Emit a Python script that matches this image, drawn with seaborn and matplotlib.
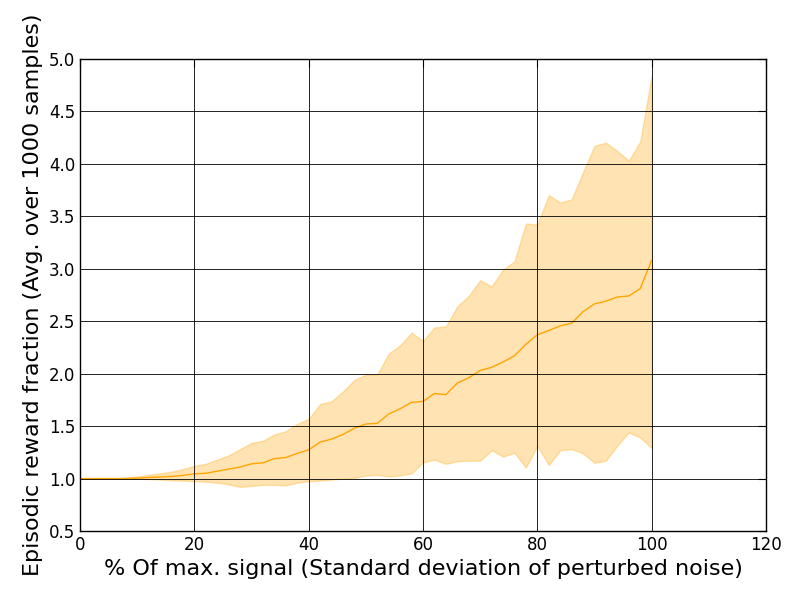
import numpy as np
import pandas as pd
import matplotlib
matplotlib.use("Agg")
import matplotlib.pyplot as plt
import seaborn as sns

noise_pct = list(range(0, 101, 2))

mean_frac = [1.0, 1.0, 1.0, 1.0, 1.0, 1.003, 1.01, 1.015, 1.02, 1.03,
             1.045, 1.05, 1.07, 1.09, 1.11, 1.14, 1.15, 1.19, 1.20, 1.24,
             1.274, 1.347, 1.376, 1.42, 1.48, 1.52, 1.525, 1.615, 1.665, 1.726,
             1.735, 1.81, 1.80, 1.91, 1.96, 2.03, 2.06, 2.11, 2.17, 2.28,
             2.37, 2.41, 2.455, 2.48, 2.59, 2.665, 2.69, 2.73, 2.74, 2.81,
             3.08]

upper_frac = [1.0, 1.0, 1.0, 1.0, 1.01, 1.02, 1.035, 1.05, 1.065, 1.09,
              1.12, 1.14, 1.18, 1.22, 1.28, 1.34, 1.36, 1.42, 1.45, 1.52,
              1.567, 1.71, 1.735, 1.83, 1.94, 1.99, 1.99, 2.19, 2.27, 2.39,
              2.31, 2.44, 2.45, 2.64, 2.74, 2.89, 2.83, 2.99, 3.07, 3.43,
              3.42, 3.70, 3.63, 3.66, 3.92, 4.17, 4.20, 4.12, 4.03, 4.21,
              4.84]

lower_frac = [1.0, 1.0, 1.0, 1.0, 1.0, 1.0, 0.995, 0.99, 0.985, 0.98,
              0.975, 0.97, 0.96, 0.945, 0.92, 0.93, 0.94, 0.94, 0.935, 0.96,
              0.975, 0.98, 0.99, 1.0, 1.005, 1.03, 1.035, 1.02, 1.03, 1.05,
              1.155, 1.18, 1.14, 1.165, 1.17, 1.17, 1.27, 1.21, 1.245, 1.105,
              1.31, 1.13, 1.27, 1.28, 1.24, 1.15, 1.17, 1.315, 1.44, 1.39,
              1.29]

df = pd.DataFrame({'noise': noise_pct, 'mean': mean_frac,
                   'upper': upper_frac, 'lower': lower_frac})

sns.set_style("white")
plt.rcParams['font.family'] = ['DejaVu Sans']
plt.rcParams['text.color'] = 'black'
plt.rcParams['axes.labelcolor'] = 'black'
plt.rcParams['xtick.color'] = 'black'
plt.rcParams['ytick.color'] = 'black'

fig = plt.figure(figsize=(8, 6), dpi=100)
ax = fig.add_axes([0.1, 0.115, 0.8575, 0.787])

ax.fill_between(df['noise'], df['lower'], df['upper'], facecolor='orange',
                edgecolor='orange', linewidth=1, alpha=0.3)
sns.lineplot(data=df, x='noise', y='mean', color='orange', linewidth=1, ax=ax)

ax.set_xlim(0, 120)
ax.set_ylim(0.5, 5.0)
ax.set_xticks(np.arange(0, 121, 20))
ax.set_yticks(np.arange(0.5, 5.01, 0.5))
ax.grid(True, color='black', linewidth=0.6, linestyle='-')
ax.set_axisbelow(False)
for s in ax.spines.values():
    s.set_color('black')
    s.set_linewidth(1)
ax.tick_params(direction='in', top=True, right=True, labelsize=12, length=6,
               color='black', labelcolor='black')

ax.set_xlabel("% Of max. signal (Standard deviation of perturbed noise)", fontsize=16)
ax.set_ylabel("Episodic reward fraction (Avg. over 1000 samples)", fontsize=16)

fig.savefig('out.png', dpi=100)
